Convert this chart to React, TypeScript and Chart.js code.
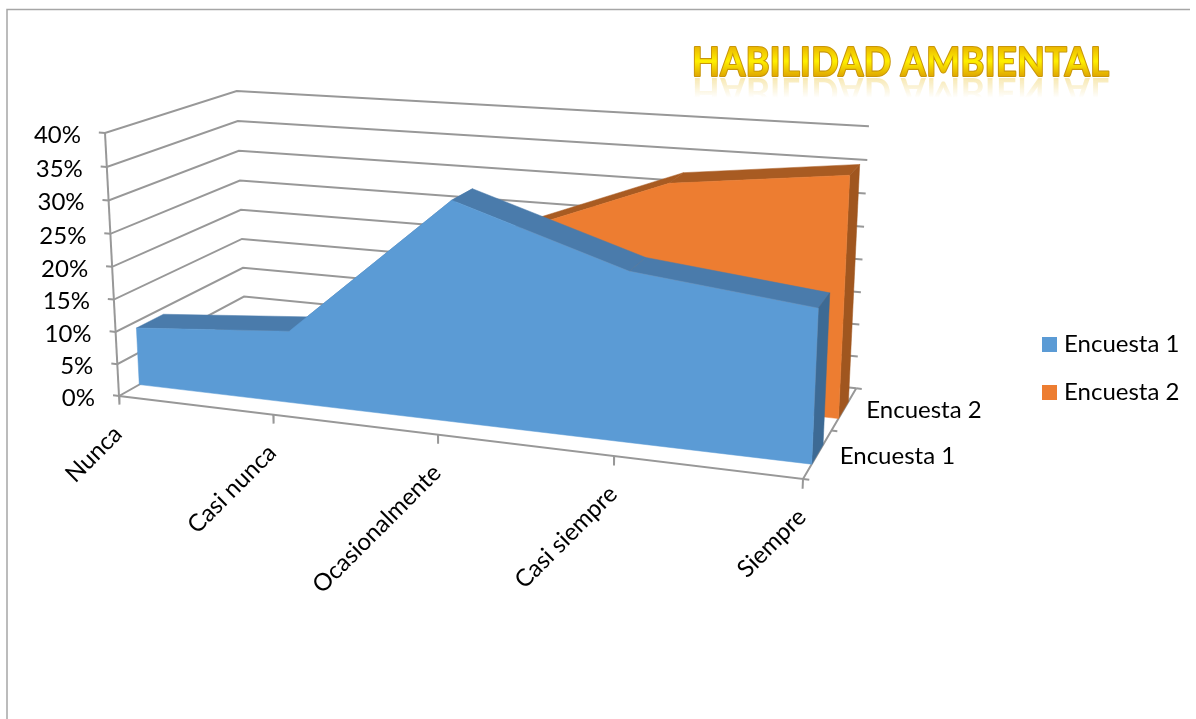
import React, { useEffect, useRef } from "react";
import { Chart, registerables } from "chart.js";

Chart.register(...registerables);

const categories = ["Nunca", "Casi nunca", "Ocasionalmente", "Casi siempre", "Siempre"];
const seriesNames = ["Encuesta 1", "Encuesta 2"];
const encuesta1 = [9, 11, 32.5, 24.5, 21.7];
const encuesta2 = [2, 5, 23, 32.7, 35.6];
const yTicks = [0, 5, 10, 15, 20, 25, 30, 35, 40];
const yMax = 40;
const title = "HABILIDAD AMBIENTAL";

const WIDTH = 1196;
const HEIGHT = 719;
const BLUE = "#5B9BD5";
const BLUE_TOP = "#4A7BAB";
const BLUE_SIDE = "#3D6A94";
const ORANGE = "#ED7D31";
const ORANGE_TOP = "#A85B22";
const ORANGE_SIDE = "#A0561F";
const GRID = "#989898";
const FONT = "Lato, Carlito, sans-serif";

// perspective camera: maps (x 0..1, y 0..1, z 0..1) of the 3D box on to the page
const wx = -0.126, wy = -0.035, wz = 0.13;
const ox = 119, oy = 396;
const ex = [803, 479], ey = [105, 133], ez = [245, 325];
const project = (x: number, y: number, z: number) => {
  const w = 1 + wx * x + wy * y + wz * z;
  const sx = ox + (ex[0] * (1 + wx) - ox) * x + (ey[0] * (1 + wy) - ox) * y + (ez[0] * (1 + wz) - ox) * z;
  const sy = oy + (ex[1] * (1 + wx) - oy) * x + (ey[1] * (1 + wy) - oy) * y + (ez[1] * (1 + wz) - oy) * z;
  return { x: sx / w, y: sy / w };
};

const catX = (i: number) => i / (categories.length - 1);
const valY = (v: number) => v / yMax;

type Pt = { x: number; y: number };
const gridLine = (pts: Pt[], label = "") => ({
  label,
  data: pts,
  showLine: true,
  pointRadius: 0,
  borderColor: GRID,
  borderWidth: 2,
  fill: false,
  tension: 0,
});
const face = (pts: Pt[], color: string, label = "") => ({
  label,
  data: pts,
  showLine: true,
  pointRadius: 0,
  borderColor: color,
  borderWidth: 0.5,
  backgroundColor: color,
  fill: "shape",
  tension: 0,
});

const areaFaces = (vals: number[], z0: number, z1: number, front: string, top: string, side: string) => {
  const out: any[] = [];
  for (let i = 0; i < vals.length - 1; i++) {
    out.push(face([
      project(catX(i), valY(vals[i]), z0),
      project(catX(i + 1), valY(vals[i + 1]), z0),
      project(catX(i + 1), valY(vals[i + 1]), z1),
      project(catX(i), valY(vals[i]), z1),
      project(catX(i), valY(vals[i]), z0),
    ], top));
  }
  const last = vals[vals.length - 1];
  out.push(face([
    project(1, 0, z0), project(1, valY(last), z0), project(1, valY(last), z1), project(1, 0, z1), project(1, 0, z0),
  ], side));
  const outline = vals.map((v, i) => project(catX(i), valY(v), z0));
  out.push(face([project(0, 0, z0), ...outline, project(1, 0, z0), project(0, 0, z0)], front));
  return out;
};

const gridSets = () => {
  const out: any[] = [];
  yTicks.forEach((t) => {
    const y = valY(t);
    out.push(gridLine([project(-0.01, y, 0), project(0, y, 0), project(0, y, 1), project(1, y, 1)]));
  });
  out.push(gridLine([project(0, 0, 0), project(0, 1, 0)]));
  out.push(gridLine([project(0, 0, 0), project(1, 0, 0), project(1, 0, 1)]));
  categories.forEach((_, i) => {
    out.push(gridLine([project(catX(i), 0, 0), project(catX(i), -0.034, 0)]));
  });
  [0, 0.5, 1].forEach((z) => {
    out.push(gridLine([project(1, 0, z), project(1.008, 0, z)]));
  });
  return out;
};

const textPlugin = {
  id: "textPlugin",
  afterDatasetsDraw(chart: any) {
    const ctx = chart.ctx as CanvasRenderingContext2D;
    const sx = (v: number) => chart.scales.x.getPixelForValue(v);
    const sy = (v: number) => chart.scales.y.getPixelForValue(v);
    ctx.save();
    // page frame
    ctx.strokeStyle = "#A6A6A6";
    ctx.lineWidth = 1.5;
    ctx.beginPath();
    ctx.moveTo(7, HEIGHT);
    ctx.lineTo(7, 9.5);
    ctx.lineTo(1190, 9.5);
    ctx.stroke();

    ctx.fillStyle = "#000";
    ctx.font = `24px ${FONT}`;
    // value axis
    ctx.textAlign = "right";
    ctx.textBaseline = "middle";
    yTicks.forEach((t) => {
      const p = project(0, valY(t), 0);
      ctx.fillText(`${t}%`, sx(p.x) - 24, sy(p.y) + 2);
    });
    // category axis
    categories.forEach((c, i) => {
      const p = project(catX(i), 0, 0);
      ctx.save();
      ctx.translate(sx(p.x) - 1, sy(p.y) + 34);
      ctx.rotate(-Math.PI / 4);
      ctx.textAlign = "right";
      ctx.textBaseline = "middle";
      ctx.fillText(c, 0, 0);
      ctx.restore();
    });
    // series axis
    ctx.textAlign = "left";
    seriesNames.forEach((n, i) => {
      const p = project(1, 0, 0.25 + i * 0.5);
      ctx.fillText(n, sx(p.x) + 22, sy(p.y) + 2);
    });
    // legend
    [BLUE, ORANGE].forEach((col, i) => {
      const top = 337 + i * 48;
      ctx.fillStyle = col;
      ctx.fillRect(1042, top, 15, 15);
      ctx.fillStyle = "#000";
      ctx.fillText(seriesNames[i], 1064, top + 7.5);
    });
    // WordArt title
    const tx = 692, base = 76;
    ctx.font = `bold 36px ${FONT}`;
    ctx.textBaseline = "alphabetic";
    (ctx as any).letterSpacing = "0.45px";
    const g = ctx.createLinearGradient(0, -27, 0, 0);
    g.addColorStop(0, "#E9B400");
    g.addColorStop(0.5, "#FFF000");
    g.addColorStop(1, "#E0A800");
    ctx.save();
    ctx.translate(tx, base + 2);
    ctx.scale(1, -1.1);
    const r = ctx.createLinearGradient(0, -18, 0, 0);
    r.addColorStop(0, "rgba(230,180,0,0)");
    r.addColorStop(1, "rgba(230,180,0,0.3)");
    ctx.fillStyle = r;
    ctx.fillText(title, 0, 0);
    ctx.restore();
    ctx.translate(tx, base);
    ctx.scale(1, 1.1);
    ctx.lineJoin = "round";
    ctx.lineWidth = 2;
    ctx.strokeStyle = "#C8960A";
    ctx.strokeText(title, 0, 0);
    ctx.fillStyle = g;
    ctx.fillText(title, 0, 0);
    ctx.restore();
  },
};

export default function App() {
  const ref = useRef<HTMLCanvasElement>(null);
  useEffect(() => {
    document.body.style.margin = "0";
    document.body.style.overflow = "hidden";
    document.body.style.background = "#fff";
    const paint = [
      ...gridSets(),
      ...areaFaces(encuesta2, 0.635, 0.835, ORANGE, ORANGE_TOP, ORANGE_SIDE),
      ...areaFaces(encuesta1, 0.145, 0.345, BLUE, BLUE_TOP, BLUE_SIDE),
    ];
    paint.forEach((d, i) => (d.order = paint.length - i));
    const chart = new Chart(ref.current as HTMLCanvasElement, {
      type: "scatter",
      data: { datasets: paint },
      options: {
        animation: false,
        responsive: false,
        layout: { padding: 0 },
        plugins: { legend: { display: false }, tooltip: { enabled: false } },
        scales: {
          x: { type: "linear", display: false, min: 0, max: WIDTH },
          y: { type: "linear", display: false, min: 0, max: HEIGHT, reverse: true },
        },
      },
      plugins: [textPlugin],
    } as any);
    return () => chart.destroy();
  }, []);
  return <canvas ref={ref} width={WIDTH} height={HEIGHT} style={{ display: "block" }} />;
}
